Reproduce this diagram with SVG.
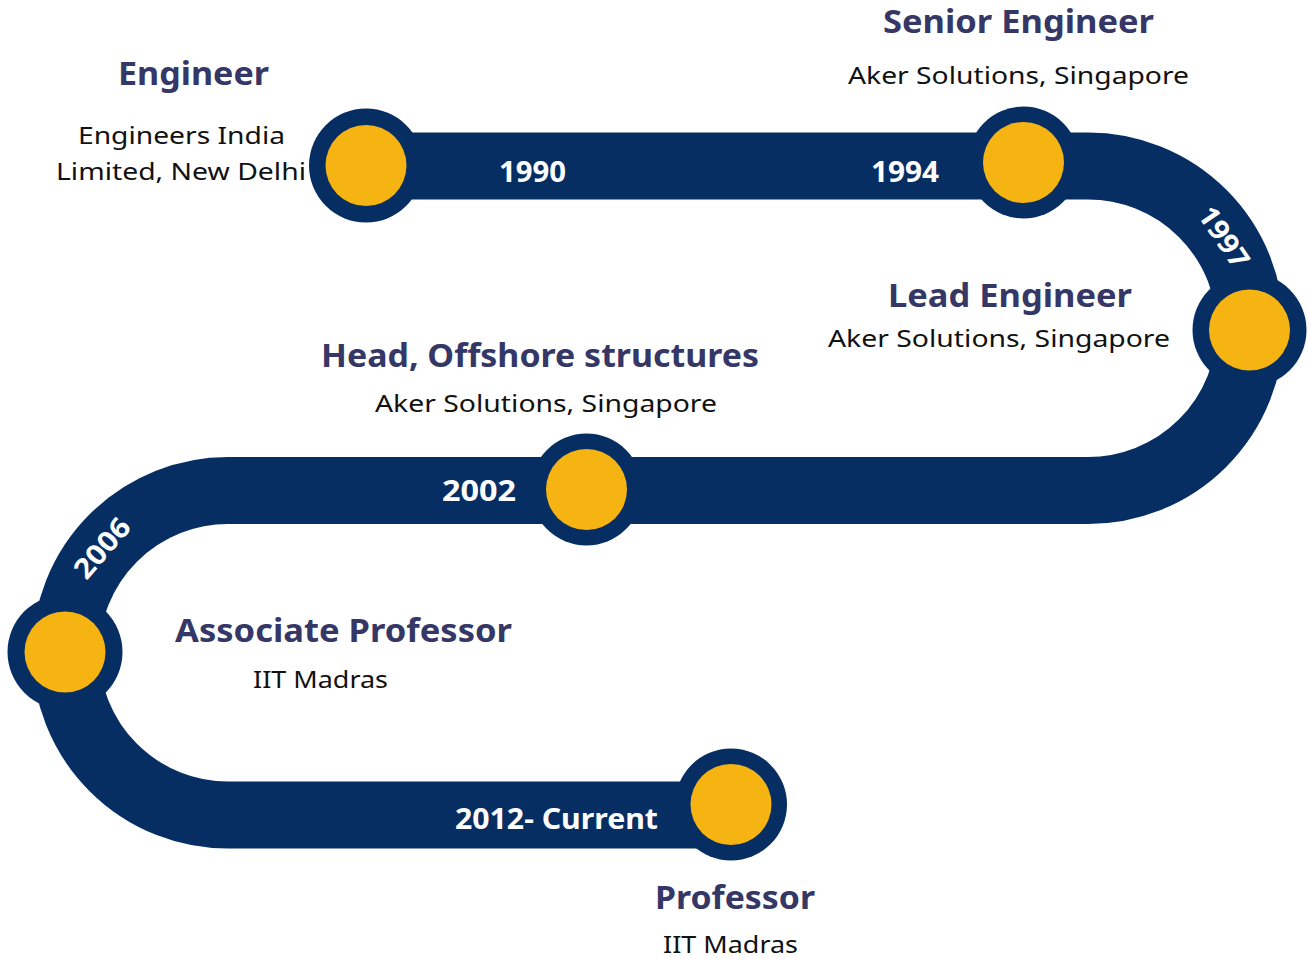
<svg xmlns="http://www.w3.org/2000/svg" width="1308" height="959" viewBox="0 0 1308 959">
<style>
.band{fill:none;stroke:#062E63;stroke-width:67}
.ring{fill:#062E63}
.dot{fill:#F6B412}
.yr{font-family:"Noto Sans","Open Sans",sans-serif;font-weight:700;font-size:28px;fill:#FFFFFF}
.ttl{font-family:"Noto Sans","Open Sans",sans-serif;font-weight:700;font-size:32px;fill:#353766}
.sub{font-family:"Noto Sans","Open Sans",sans-serif;font-weight:400;font-size:24px;fill:#111111}
</style>
<rect width="1308" height="959" fill="#FFFFFF"/>
<g id="connectors">
<path class="band" d="M366,166 H1088 A162.25,162.25 0 0 1 1088,490.5 H228 A162.25,162.25 0 0 0 228,815 H731"/>
<text class="yr" x="499" y="182" textLength="67" lengthAdjust="spacingAndGlyphs">1990</text>
<text class="yr" x="871" y="182" textLength="68" lengthAdjust="spacingAndGlyphs">1994</text>
<text class="yr" x="1224" y="237" text-anchor="middle" dy="10" transform="rotate(56 1224 237)" textLength="68" lengthAdjust="spacingAndGlyphs">1997</text>
<text class="yr" x="442" y="501" textLength="74" lengthAdjust="spacingAndGlyphs">2002</text>
<text class="yr" x="102" y="548" text-anchor="middle" dy="10" transform="rotate(-49 102 548)" textLength="70" lengthAdjust="spacingAndGlyphs">2006</text>
<text class="yr" x="455" y="829" textLength="203" lengthAdjust="spacingAndGlyphs">2012- Current</text>
</g>
<g id="node-engineer">
<circle class="ring" cx="366" cy="165.5" r="57"/>
<circle class="dot" cx="366" cy="165.5" r="40.5"/>
<text class="ttl" x="118" y="85" textLength="151" lengthAdjust="spacingAndGlyphs">Engineer</text>
<text class="sub" x="78" y="144" textLength="207" lengthAdjust="spacingAndGlyphs">Engineers India</text>
<text class="sub" x="56" y="180" textLength="250" lengthAdjust="spacingAndGlyphs">Limited, New Delhi</text>
</g>
<g id="node-senior">
<circle class="ring" cx="1023.5" cy="162.5" r="56"/>
<circle class="dot" cx="1023.5" cy="162.5" r="40.5"/>
<text class="ttl" x="883" y="33" textLength="271" lengthAdjust="spacingAndGlyphs">Senior Engineer</text>
<text class="sub" x="848" y="84" textLength="341" lengthAdjust="spacingAndGlyphs">Aker Solutions, Singapore</text>
</g>
<g id="node-lead">
<circle class="ring" cx="1249.5" cy="330" r="57"/>
<circle class="dot" cx="1249.5" cy="330" r="40.5"/>
<text class="ttl" x="888" y="307" textLength="244" lengthAdjust="spacingAndGlyphs">Lead Engineer</text>
<text class="sub" x="828" y="347" textLength="342" lengthAdjust="spacingAndGlyphs">Aker Solutions, Singapore</text>
</g>
<g id="node-head">
<circle class="ring" cx="586.5" cy="489.5" r="56"/>
<circle class="dot" cx="586.5" cy="489.5" r="40.5"/>
<text class="ttl" x="321" y="367" textLength="438" lengthAdjust="spacingAndGlyphs">Head, Offshore structures</text>
<text class="sub" x="375" y="412" textLength="342" lengthAdjust="spacingAndGlyphs">Aker Solutions, Singapore</text>
</g>
<g id="node-associate">
<circle class="ring" cx="65" cy="652" r="57.5"/>
<circle class="dot" cx="65" cy="652" r="40.5"/>
<text class="ttl" x="175" y="642" textLength="337" lengthAdjust="spacingAndGlyphs">Associate Professor</text>
<text class="sub" x="253" y="688" textLength="135" lengthAdjust="spacingAndGlyphs">IIT Madras</text>
</g>
<g id="node-professor">
<circle class="ring" cx="731" cy="804.5" r="56"/>
<circle class="dot" cx="731" cy="804.5" r="40.5"/>
<text class="ttl" x="655" y="909" textLength="160" lengthAdjust="spacingAndGlyphs">Professor</text>
<text class="sub" x="663" y="953" textLength="135" lengthAdjust="spacingAndGlyphs">IIT Madras</text>
</g>
</svg>
